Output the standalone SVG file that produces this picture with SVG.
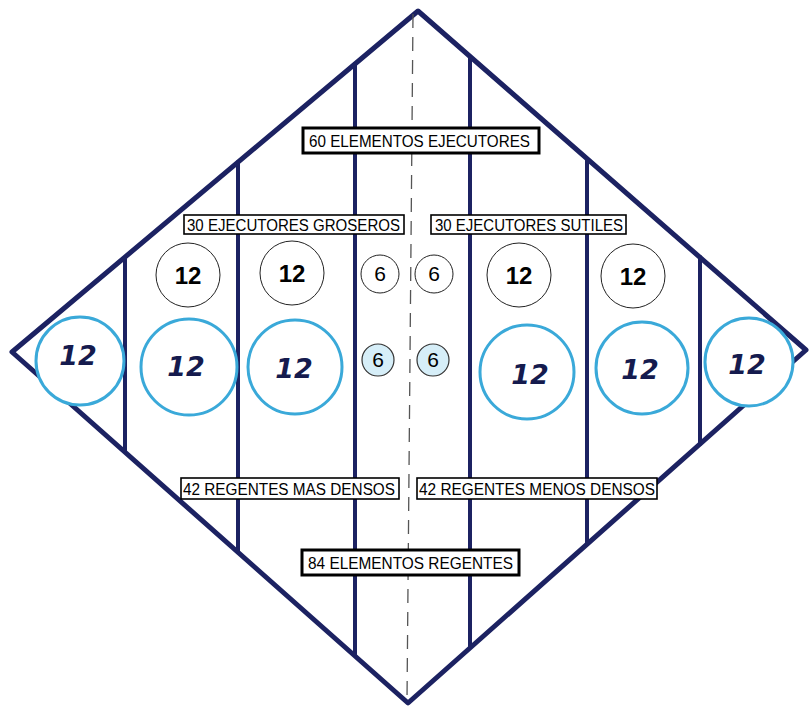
<svg xmlns="http://www.w3.org/2000/svg" width="810" height="707" viewBox="0 0 810 707">
<style>
.frame{fill:none;stroke:#1c2262;stroke-width:5;stroke-linejoin:round;stroke-linecap:round}
.div{stroke:#1c2262;stroke-width:4;stroke-linecap:round}
.dash{stroke:#555;stroke-width:1.3;stroke-dasharray:14 9;fill:none}
.boxT{fill:#fff;stroke:#000;stroke-width:3}
.boxt{fill:#fff;stroke:#000;stroke-width:1.6}
.lbl{font-family:"Liberation Sans",Arial,sans-serif;font-size:16px;fill:#000}
.c1{fill:#fff;stroke:#222;stroke-width:1}
.n1{font-family:"Liberation Sans",Arial,sans-serif;font-size:24px;font-weight:bold;fill:#000;text-anchor:middle}
.n6{font-family:"Liberation Sans",Arial,sans-serif;font-size:21px;fill:#000;text-anchor:middle}
.c2{fill:#fff;stroke:#3aa9d9;stroke-width:3}
.c6{fill:#d6eef8;stroke:#333;stroke-width:1.2}
.hw{font-family:"DejaVu Sans",sans-serif;font-size:27px;font-weight:bold;font-style:italic;fill:#151b4e;text-anchor:middle}
</style>
<rect width="810" height="707" fill="#fff"/>
<g id="frame">
<polygon class="frame" points="418,11 806,350 408,703 12,352"/>
</g>
<g id="connectors">
<line class="div" x1="125" y1="258" x2="125" y2="451"/>
<line class="div" x1="238" y1="162" x2="238" y2="551"/>
<line class="div" x1="355" y1="64" x2="355" y2="655"/>
<line class="div" x1="470" y1="57" x2="470" y2="647"/>
<line class="div" x1="587" y1="159" x2="587" y2="544"/>
<line class="div" x1="700" y1="257" x2="700" y2="444"/>
<line class="dash" x1="413" y1="14" x2="407" y2="700"/>
</g>
<g id="box-60">
<rect class="boxT" x="303" y="128" width="236" height="25"/>
<text class="lbl" x="309" y="147" textLength="221" lengthAdjust="spacingAndGlyphs" style="font-size:17px">60 ELEMENTOS EJECUTORES</text>
</g>
<g id="box-groseros">
<rect class="boxt" x="184" y="215" width="220" height="19"/>
<text class="lbl" x="187" y="231" textLength="213" lengthAdjust="spacingAndGlyphs">30 EJECUTORES GROSEROS</text>
</g>
<g id="box-sutiles">
<rect class="boxt" x="431" y="215" width="195" height="19"/>
<text class="lbl" x="435" y="231" textLength="188" lengthAdjust="spacingAndGlyphs">30 EJECUTORES SUTILES</text>
</g>
<g id="row1">
<g id="e1"><circle class="c1" cx="188" cy="275" r="32"/><text class="n1" x="188" y="284">12</text></g>
<g id="e2"><circle class="c1" cx="292" cy="273" r="32"/><text class="n1" x="292" y="282">12</text></g>
<g id="e3"><circle class="c1" cx="380" cy="274" r="19"/><text class="n6" x="380" y="281">6</text></g>
<g id="e4"><circle class="c1" cx="434" cy="274" r="19"/><text class="n6" x="434" y="281">6</text></g>
<g id="e5"><circle class="c1" cx="519" cy="275" r="32"/><text class="n1" x="519" y="284">12</text></g>
<g id="e6"><circle class="c1" cx="633" cy="276" r="32"/><text class="n1" x="633" y="285">12</text></g>
</g>
<g id="row2">
<g id="r1"><circle class="c2" cx="80" cy="361" r="44"/><text class="hw" x="78" y="365">12</text></g>
<g id="r2"><circle class="c2" cx="189" cy="367" r="48"/><text class="hw" x="186" y="376">12</text></g>
<g id="r3"><circle class="c2" cx="295" cy="367" r="47"/><text class="hw" x="294" y="378">12</text></g>
<g id="r4"><circle class="c6" cx="378" cy="360" r="16"/><text class="n6" x="378" y="367">6</text></g>
<g id="r5"><circle class="c6" cx="433" cy="360" r="16"/><text class="n6" x="433" y="367">6</text></g>
<g id="r6"><circle class="c2" cx="527" cy="372" r="47"/><text class="hw" x="530" y="384">12</text></g>
<g id="r7"><circle class="c2" cx="642" cy="368" r="46"/><text class="hw" x="640" y="379">12</text></g>
<g id="r8"><circle class="c2" cx="749" cy="362" r="44"/><text class="hw" x="747" y="374">12</text></g>
</g>
<g id="box-mas">
<rect class="boxt" x="181" y="478" width="218" height="21"/>
<text class="lbl" x="183" y="495" textLength="212" lengthAdjust="spacingAndGlyphs">42 REGENTES MAS DENSOS</text>
</g>
<g id="box-menos">
<rect class="boxt" x="417" y="478" width="240" height="21"/>
<text class="lbl" x="419" y="495" textLength="236" lengthAdjust="spacingAndGlyphs">42 REGENTES MENOS DENSOS</text>
</g>
<g id="box-84">
<rect class="boxT" x="302" y="550" width="217" height="25"/>
<text class="lbl" x="308" y="569" textLength="205" lengthAdjust="spacingAndGlyphs" style="font-size:17px">84 ELEMENTOS REGENTES</text>
</g>
</svg>
